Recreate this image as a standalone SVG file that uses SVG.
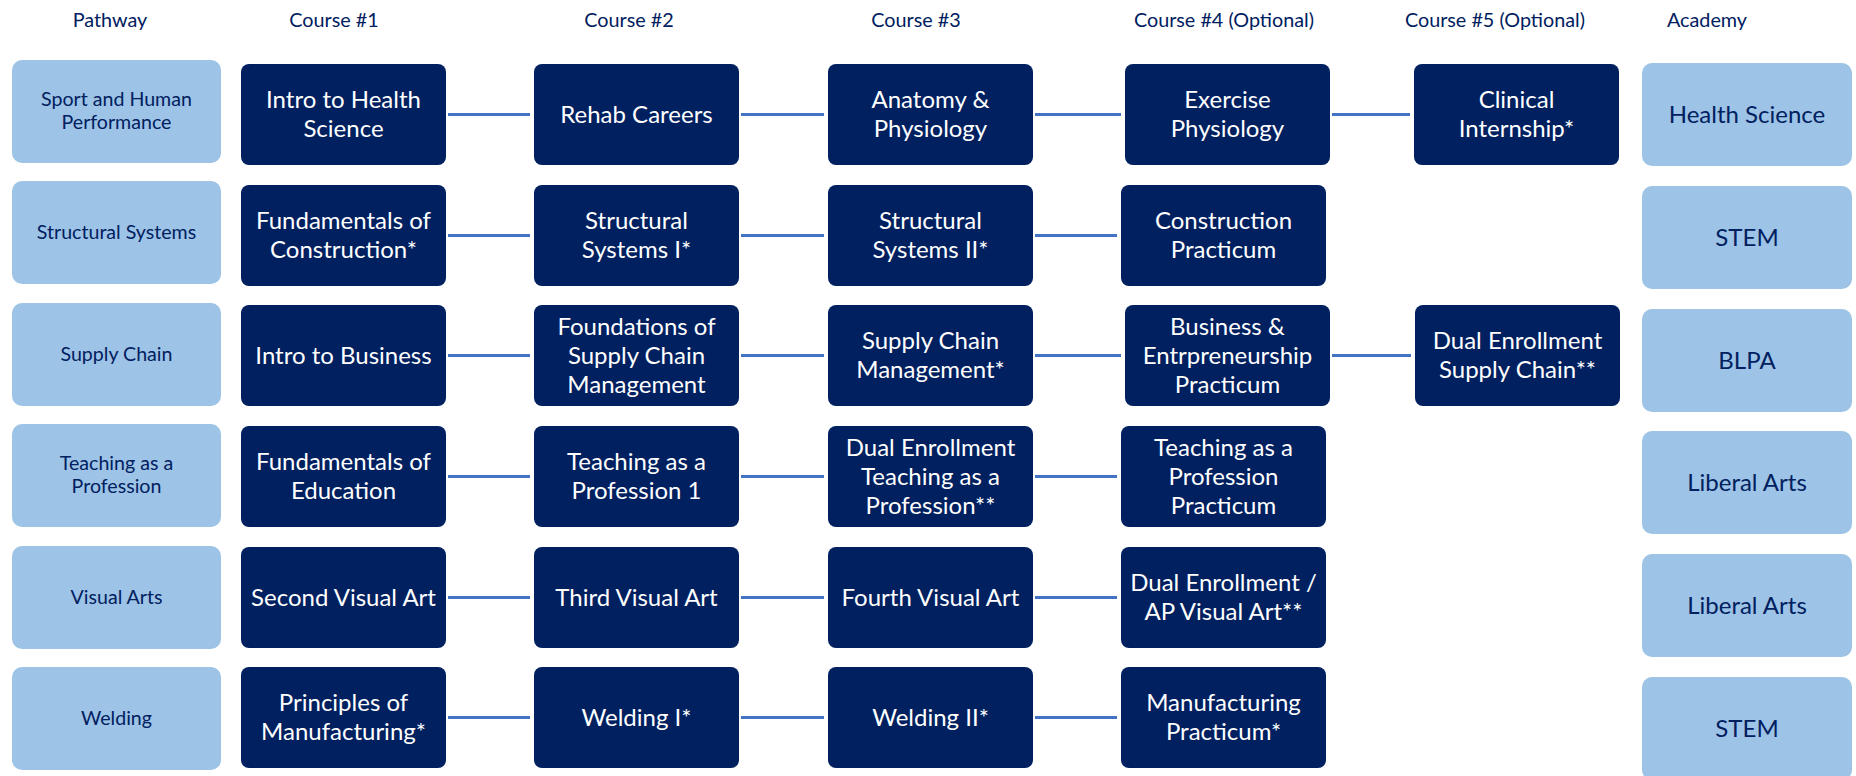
<svg xmlns="http://www.w3.org/2000/svg" width="1856" height="776" viewBox="0 0 1856 776">
<style>
.hdr{font-family:Lato,"Open Sans","DejaVu Sans",sans-serif;font-size:19.8px;fill:#002060;text-anchor:middle}
.pw rect,.ac rect{fill:#9DC3E6}
.pw text{font-family:Lato,"Open Sans","DejaVu Sans",sans-serif;font-size:19.6px;fill:#002060;text-anchor:middle}
.ac text{font-family:Lato,"Open Sans","DejaVu Sans",sans-serif;font-size:24px;fill:#002060;text-anchor:middle}
.cr rect{fill:#002060}
.cr text{font-family:Lato,"Open Sans","DejaVu Sans",sans-serif;font-size:24px;fill:#ffffff;text-anchor:middle}
.conn path{stroke:#4472C4;stroke-width:3;fill:none}
</style>
<rect width="1856" height="776" fill="#ffffff"/>
<g id="headers">
<text class="hdr" x="110" y="27">Pathway</text>
<text class="hdr" x="334" y="27">Course #1</text>
<text class="hdr" x="629" y="27">Course #2</text>
<text class="hdr" x="916" y="27">Course #3</text>
<text class="hdr" x="1224" y="27">Course #4 (Optional)</text>
<text class="hdr" x="1495" y="27">Course #5 (Optional)</text>
<text class="hdr" x="1707" y="27">Academy</text>
</g>
<g id="connectors" class="conn">
<path d="M448 114.5H530M741 114.5H824M1035 114.5H1121M1332 114.5H1410"/>
<path d="M448 235.5H530M741 235.5H824M1035 235.5H1117"/>
<path d="M448 355.5H530M741 355.5H824M1035 355.5H1121M1332 355.5H1411"/>
<path d="M448 476.5H530M741 476.5H824M1035 476.5H1117"/>
<path d="M448 597.5H530M741 597.5H824M1035 597.5H1117"/>
<path d="M448 717.5H530M741 717.5H824M1035 717.5H1117"/>
</g>
<!-- Row 1 -->
<g id="pw1" class="pw"><rect x="12" y="60" width="209" height="103" rx="10"/><text x="116.5"><tspan x="116.5" y="106">Sport and Human</tspan><tspan x="116.5" y="129">Performance</tspan></text></g>
<g id="r1c1" class="cr"><rect x="241" y="64" width="205" height="101" rx="8"/><text><tspan x="343.5" y="108">Intro to Health</tspan><tspan x="343.5" y="137">Science</tspan></text></g>
<g id="r1c2" class="cr"><rect x="534" y="64" width="205" height="101" rx="8"/><text x="636.5" y="122.5">Rehab Careers</text></g>
<g id="r1c3" class="cr"><rect x="828" y="64" width="205" height="101" rx="8"/><text><tspan x="930.5" y="108">Anatomy &amp;</tspan><tspan x="930.5" y="137">Physiology</tspan></text></g>
<g id="r1c4" class="cr"><rect x="1125" y="64" width="205" height="101" rx="8"/><text><tspan x="1227.5" y="108">Exercise</tspan><tspan x="1227.5" y="137">Physiology</tspan></text></g>
<g id="r1c5" class="cr"><rect x="1414" y="64" width="205" height="101" rx="8"/><text><tspan x="1516.5" y="108">Clinical</tspan><tspan x="1516.5" y="137">Internship*</tspan></text></g>
<g id="ac1" class="ac"><rect x="1642" y="63" width="210" height="103" rx="10"/><text x="1747" y="122.5">Health Science</text></g>
<!-- Row 2 -->
<g id="pw2" class="pw"><rect x="12" y="181" width="209" height="103" rx="10"/><text x="116.5" y="238.5">Structural Systems</text></g>
<g id="r2c1" class="cr"><rect x="241" y="185" width="205" height="101" rx="8"/><text><tspan x="343.5" y="229">Fundamentals of</tspan><tspan x="343.5" y="258">Construction*</tspan></text></g>
<g id="r2c2" class="cr"><rect x="534" y="185" width="205" height="101" rx="8"/><text><tspan x="636.5" y="229">Structural</tspan><tspan x="636.5" y="258">Systems I*</tspan></text></g>
<g id="r2c3" class="cr"><rect x="828" y="185" width="205" height="101" rx="8"/><text><tspan x="930.5" y="229">Structural</tspan><tspan x="930.5" y="258">Systems II*</tspan></text></g>
<g id="r2c4" class="cr"><rect x="1121" y="185" width="205" height="101" rx="8"/><text><tspan x="1223.5" y="229">Construction</tspan><tspan x="1223.5" y="258">Practicum</tspan></text></g>
<g id="ac2" class="ac"><rect x="1642" y="186" width="210" height="103" rx="10"/><text x="1747" y="245.5">STEM</text></g>
<!-- Row 3 -->
<g id="pw3" class="pw"><rect x="12" y="303" width="209" height="103" rx="10"/><text x="116.5" y="360.5">Supply Chain</text></g>
<g id="r3c1" class="cr"><rect x="241" y="305" width="205" height="101" rx="8"/><text x="343.5" y="363.5">Intro to Business</text></g>
<g id="r3c2" class="cr"><rect x="534" y="305" width="205" height="101" rx="8"/><text><tspan x="636.5" y="334.5">Foundations of</tspan><tspan x="636.5" y="363.5">Supply Chain</tspan><tspan x="636.5" y="392.5">Management</tspan></text></g>
<g id="r3c3" class="cr"><rect x="828" y="305" width="205" height="101" rx="8"/><text><tspan x="930.5" y="349">Supply Chain</tspan><tspan x="930.5" y="378">Management*</tspan></text></g>
<g id="r3c4" class="cr"><rect x="1125" y="305" width="205" height="101" rx="8"/><text><tspan x="1227.5" y="334.5">Business &amp;</tspan><tspan x="1227.5" y="363.5">Entrpreneurship</tspan><tspan x="1227.5" y="392.5">Practicum</tspan></text></g>
<g id="r3c5" class="cr"><rect x="1415" y="305" width="205" height="101" rx="8"/><text><tspan x="1517.5" y="349">Dual Enrollment</tspan><tspan x="1517.5" y="378">Supply Chain**</tspan></text></g>
<g id="ac3" class="ac"><rect x="1642" y="309" width="210" height="103" rx="10"/><text x="1747" y="368.5">BLPA</text></g>
<!-- Row 4 -->
<g id="pw4" class="pw"><rect x="12" y="424" width="209" height="103" rx="10"/><text><tspan x="116.5" y="470">Teaching as a</tspan><tspan x="116.5" y="493">Profession</tspan></text></g>
<g id="r4c1" class="cr"><rect x="241" y="426" width="205" height="101" rx="8"/><text><tspan x="343.5" y="470">Fundamentals of</tspan><tspan x="343.5" y="499">Education</tspan></text></g>
<g id="r4c2" class="cr"><rect x="534" y="426" width="205" height="101" rx="8"/><text><tspan x="636.5" y="470">Teaching as a</tspan><tspan x="636.5" y="499">Profession 1</tspan></text></g>
<g id="r4c3" class="cr"><rect x="828" y="426" width="205" height="101" rx="8"/><text><tspan x="930.5" y="455.5">Dual Enrollment</tspan><tspan x="930.5" y="484.5">Teaching as a</tspan><tspan x="930.5" y="513.5">Profession**</tspan></text></g>
<g id="r4c4" class="cr"><rect x="1121" y="426" width="205" height="101" rx="8"/><text><tspan x="1223.5" y="455.5">Teaching as a</tspan><tspan x="1223.5" y="484.5">Profession</tspan><tspan x="1223.5" y="513.5">Practicum</tspan></text></g>
<g id="ac4" class="ac"><rect x="1642" y="431" width="210" height="103" rx="10"/><text x="1747" y="490.5">Liberal Arts</text></g>
<!-- Row 5 -->
<g id="pw5" class="pw"><rect x="12" y="546" width="209" height="103" rx="10"/><text x="116.5" y="603.5">Visual Arts</text></g>
<g id="r5c1" class="cr"><rect x="241" y="547" width="205" height="101" rx="8"/><text x="343.5" y="605.5">Second Visual Art</text></g>
<g id="r5c2" class="cr"><rect x="534" y="547" width="205" height="101" rx="8"/><text x="636.5" y="605.5">Third Visual Art</text></g>
<g id="r5c3" class="cr"><rect x="828" y="547" width="205" height="101" rx="8"/><text x="930.5" y="605.5">Fourth Visual Art</text></g>
<g id="r5c4" class="cr"><rect x="1121" y="547" width="205" height="101" rx="8"/><text><tspan x="1223.5" y="591">Dual Enrollment /</tspan><tspan x="1223.5" y="620">AP Visual Art**</tspan></text></g>
<g id="ac5" class="ac"><rect x="1642" y="554" width="210" height="103" rx="10"/><text x="1747" y="613.5">Liberal Arts</text></g>
<!-- Row 6 -->
<g id="pw6" class="pw"><rect x="12" y="667" width="209" height="103" rx="10"/><text x="116.5" y="724.5">Welding</text></g>
<g id="r6c1" class="cr"><rect x="241" y="667" width="205" height="101" rx="8"/><text><tspan x="343.5" y="711">Principles of</tspan><tspan x="343.5" y="740">Manufacturing*</tspan></text></g>
<g id="r6c2" class="cr"><rect x="534" y="667" width="205" height="101" rx="8"/><text x="636.5" y="725.5">Welding I*</text></g>
<g id="r6c3" class="cr"><rect x="828" y="667" width="205" height="101" rx="8"/><text x="930.5" y="725.5">Welding II*</text></g>
<g id="r6c4" class="cr"><rect x="1121" y="667" width="205" height="101" rx="8"/><text><tspan x="1223.5" y="711">Manufacturing</tspan><tspan x="1223.5" y="740">Practicum*</tspan></text></g>
<g id="ac6" class="ac"><rect x="1642" y="677" width="210" height="103" rx="10"/><text x="1747" y="736.5">STEM</text></g>
</svg>
